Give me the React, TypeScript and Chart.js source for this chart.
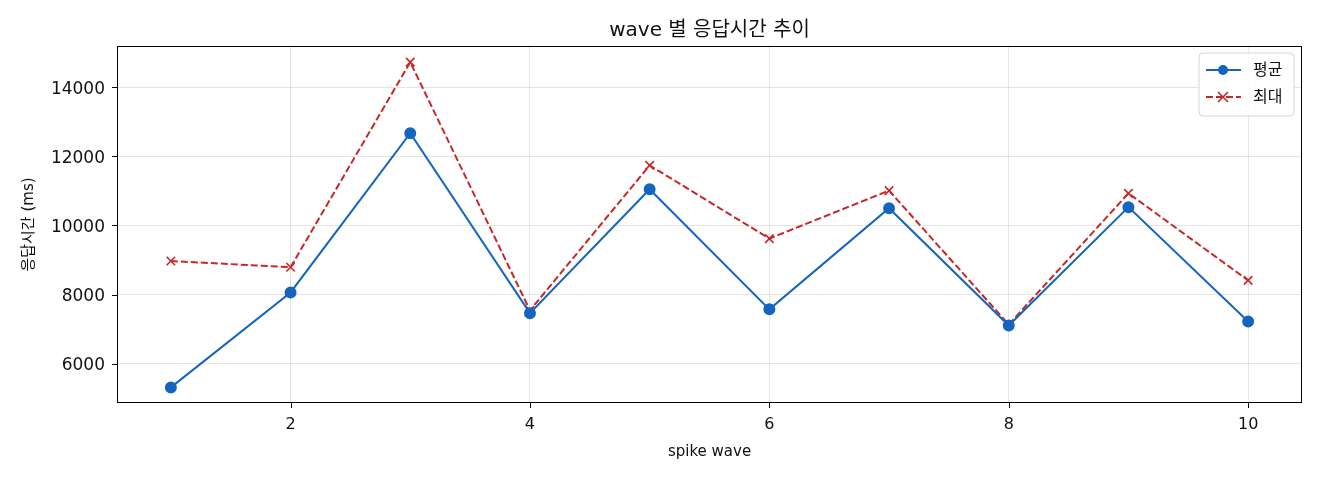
import React, { useEffect, useRef } from "react";
import { Chart, registerables } from "chart.js";

Chart.register(...registerables);

const waves = [1, 2, 3, 4, 5, 6, 7, 8, 9, 10];
const avgMs = [5310, 8060, 12670, 7460, 11050, 7570, 10500, 7100, 10530, 7220];
const maxMs = [8970, 8790, 14730, 7540, 11740, 9620, 11010, 7130, 10930, 8410];
const xTicks = [2, 4, 6, 8, 10];
const yTicks = [6000, 8000, 10000, 12000, 14000];
const chartTitle = "wave 별 응답시간 추이";

const FONT = "'DejaVu Sans', 'Noto Sans CJK KR', sans-serif";
const BLUE = "#1565c0";
const RED = "#c62828";

// frame on all four sides, outward tick marks, title over the plot area, matplotlib-like legend
const framePlugin = {
  id: "frame",
  afterDraw(chart: any) {
    const { ctx, chartArea: a } = chart;
    const sx = chart.scales.x;
    const sy = chart.scales.y;
    ctx.save();
    ctx.strokeStyle = "#000";
    ctx.lineWidth = 1;
    ctx.strokeRect(a.left + 0.5, a.top + 0.5, a.right - a.left - 1, a.bottom - a.top - 1);
    ctx.beginPath();
    xTicks.forEach((v) => {
      const px = Math.round(sx.getPixelForValue(v)) + 0.5;
      ctx.moveTo(px, a.bottom);
      ctx.lineTo(px, a.bottom + 5);
    });
    yTicks.forEach((v) => {
      const py = Math.round(sy.getPixelForValue(v)) + 0.5;
      ctx.moveTo(a.left, py);
      ctx.lineTo(a.left - 5, py);
    });
    ctx.stroke();

    ctx.fillStyle = "#111";
    ctx.font = "20px " + FONT;
    ctx.textAlign = "center";
    ctx.textBaseline = "middle";
    ctx.fillText(chartTitle, (a.left + a.right) / 2, 31);
    ctx.textAlign = "left";

    const bx = a.right - 103, by = a.top + 7, bw = 95, bh = 63;
    ctx.fillStyle = "rgba(255,255,255,0.85)";
    ctx.strokeStyle = "#d6d6d6";
    ctx.beginPath();
    ctx.roundRect(bx, by, bw, bh, 4);
    ctx.fill();
    ctx.stroke();

    chart.data.datasets.forEach((ds: any, i: number) => {
      const y = by + 17 + i * 27;
      ctx.strokeStyle = ds.borderColor;
      ctx.lineWidth = 2;
      ctx.setLineDash(ds.borderDash || []);
      ctx.beginPath();
      ctx.moveTo(bx + 7, y);
      ctx.lineTo(bx + 42, y);
      ctx.stroke();
      ctx.setLineDash([]);
      const cx = bx + 24;
      if (ds.pointStyle === "circle") {
        ctx.fillStyle = ds.pointBackgroundColor;
        ctx.beginPath();
        ctx.arc(cx, y, 5, 0, Math.PI * 2);
        ctx.fill();
      } else {
        ctx.lineWidth = 1.6;
        ctx.beginPath();
        ctx.moveTo(cx - 5, y - 5);
        ctx.lineTo(cx + 5, y + 5);
        ctx.moveTo(cx - 5, y + 5);
        ctx.lineTo(cx + 5, y - 5);
        ctx.stroke();
      }
      ctx.fillStyle = "#111";
      ctx.font = "16px " + FONT;
      ctx.textBaseline = "middle";
      ctx.fillText(ds.label, bx + 54, y + 1);
    });
    ctx.restore();
  },
};

const App: React.FC = () => {
  const canvasRef = useRef<HTMLCanvasElement | null>(null);

  useEffect(() => {
    document.body.style.margin = "0";
    if (!canvasRef.current) return;

    const chart = new Chart(canvasRef.current, {
      type: "line",
      data: {
        datasets: [
          {
            label: "평균",
            data: waves.map((w, i) => ({ x: w, y: avgMs[i] })),
            borderColor: BLUE,
            backgroundColor: BLUE,
            pointBackgroundColor: BLUE,
            pointBorderColor: BLUE,
            pointStyle: "circle",
            pointRadius: 5,
            borderWidth: 2,
          },
          {
            label: "최대",
            data: waves.map((w, i) => ({ x: w, y: maxMs[i] })),
            borderColor: RED,
            backgroundColor: RED,
            pointBorderColor: RED,
            pointStyle: "cross",
            pointRotation: 45,
            pointRadius: 6,
            pointBorderWidth: 1.6,
            borderWidth: 2,
            borderDash: [7, 3],
          },
        ],
      },
      options: {
        responsive: false,
        animation: false,
        layout: { padding: { left: 20, right: 18, top: 46, bottom: 0 } },
        plugins: {
          legend: { display: false },
          tooltip: { enabled: false },
          title: { display: false },
        },
        scales: {
          x: {
            type: "linear",
            min: 0.55,
            max: 10.45,
            afterBuildTicks: (s: any) => {
              s.ticks = xTicks.map((v) => ({ value: v }));
            },
            afterFit: (s: any) => {
              s.height = 77;
            },
            ticks: {
              color: "#111",
              font: { family: FONT, size: 16 },
              padding: 7,
              callback: (v: any) => String(v),
            },
            grid: { color: "rgba(0,0,0,0.1)", lineWidth: 1, drawTicks: true, tickLength: 5, tickColor: "rgba(0,0,0,0)" },
            border: { display: false },
            title: {
              display: true,
              text: "spike wave",
              color: "#111",
              font: { family: FONT, size: 15 },
              padding: { top: 4, bottom: 19 },
            },
          },
          y: {
            min: 4858,
            max: 15197,
            afterBuildTicks: (s: any) => {
              s.ticks = yTicks.map((v) => ({ value: v }));
            },
            afterFit: (s: any) => {
              s.width = 97;
            },
            ticks: {
              color: "#111",
              font: { family: FONT, size: 17 },
              padding: 7,
              labelOffset: 2,
              callback: (v: any) => String(v),
            },
            grid: { color: "rgba(0,0,0,0.1)", lineWidth: 1, drawTicks: true, tickLength: 5, tickColor: "rgba(0,0,0,0)" },
            border: { display: false },
            title: {
              display: true,
              text: "응답시간 (ms)",
              color: "#111",
              font: { family: FONT, size: 15 },
              padding: 0,
            },
          },
        },
      },
      plugins: [framePlugin],
    });

    return () => chart.destroy();
  }, []);

  return <canvas ref={canvasRef} width={1320} height={480} />;
};

export default App;
